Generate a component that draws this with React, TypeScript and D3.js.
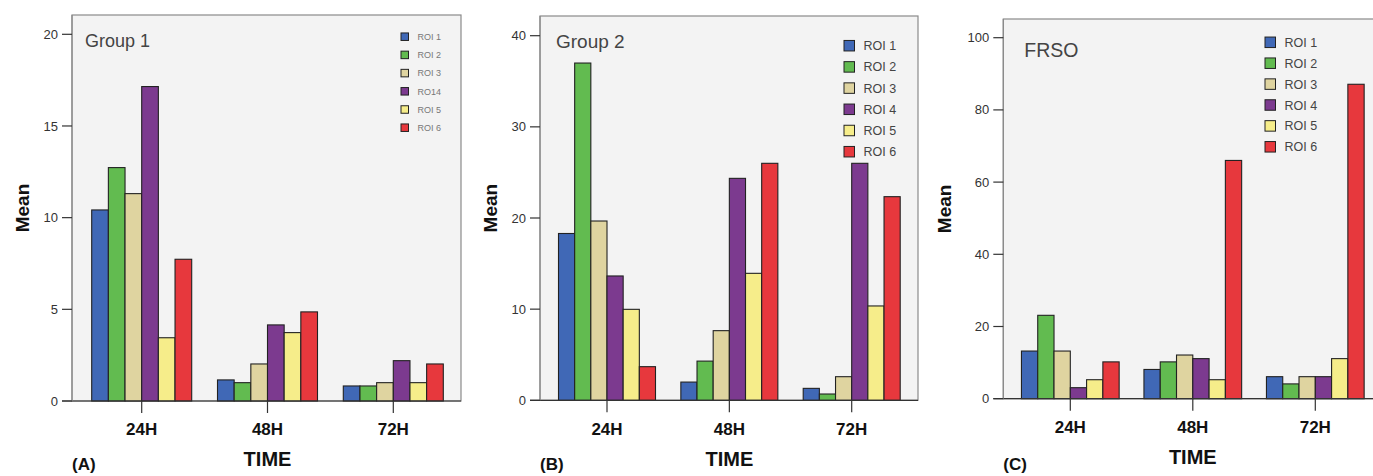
import React from "react";
import * as d3 from "d3";

const categories = ["24H", "48H", "72H"];
const roiColors = ["#4068b6", "#62bb50", "#dfd4a0", "#7c3a8f", "#f6ed8a", "#e7383d"];

const legendA = ["ROI 1", "ROI 2", "ROI 3", "RO14", "ROI 5", "ROI 6"];
const legendBC = ["ROI 1", "ROI 2", "ROI 3", "ROI 4", "ROI 5", "ROI 6"];

// values[roi][category]
const group1 = [
  [10.42, 1.15, 0.82],
  [12.73, 1.0, 0.82],
  [11.31, 2.02, 1.0],
  [17.15, 4.15, 2.2],
  [3.45, 3.73, 1.0],
  [7.73, 4.86, 2.02],
];
const group2 = [
  [18.3, 2.0, 1.31],
  [37.0, 4.3, 0.69],
  [19.67, 7.64, 2.59],
  [13.64, 24.35, 26.0],
  [9.98, 13.93, 10.35],
  [3.69, 26.0, 22.34],
];
const frso = [
  [13.2, 8.1, 6.1],
  [23.1, 10.2, 4.1],
  [13.2, 12.1, 6.1],
  [3.05, 11.1, 6.1],
  [5.26, 5.26, 11.1],
  [10.2, 66.0, 87.1],
];

const ticksA = [0, 5, 10, 15, 20];
const ticksB = [0, 10, 20, 30, 40];
const ticksC = [0, 20, 40, 60, 80, 100];

const FONT = "'Liberation Sans', Arial, sans-serif";

type PanelProps = {
  title: string;
  tag: string;
  values: number[][];
  ticks: number[];
  legend: string[];
  frame: { x0: number; y0: number; x1: number; y1: number };
  yTopPx: number;
  cat0: number;
  cat2: number;
  groupW: number;
  title_: { x: number; y: number; size: number };
  leg: { x: number; y: number; dy: number; sq: number; size: number; color: string };
  meanX: number;
  timeY: number;
  catY: number;
};

function Panel(p: PanelProps) {
  const { frame } = p;
  const y = d3
    .scaleLinear()
    .domain([0, p.ticks[p.ticks.length - 1]])
    .range([frame.y1, p.yTopPx]);
  const x = d3.scalePoint<string>().domain(categories).range([p.cat0, p.cat2]);
  const inner = d3
    .scaleBand<number>()
    .domain(d3.range(p.values.length))
    .range([-p.groupW / 2, p.groupW / 2])
    .padding(0);
  const midX = (p.cat0 + p.cat2) / 2;
  return (
    <g>
      <rect
        x={frame.x0}
        y={frame.y0}
        width={frame.x1 - frame.x0}
        height={frame.y1 - frame.y0}
        fill="#f3f3f3"
        stroke="#8a8a8a"
        strokeWidth={1.2}
      />
      <text x={p.title_.x} y={p.title_.y} fontSize={p.title_.size} fill="#444" fontFamily={FONT}>
        {p.title}
      </text>
      {p.values.map((series, r) =>
        series.map((v, c) => (
          <rect
            key={`${r}-${c}`}
            x={(x(categories[c]) as number) + (inner(r) as number)}
            y={y(v)}
            width={inner.bandwidth()}
            height={frame.y1 - y(v)}
            fill={roiColors[r]}
            stroke="#222"
            strokeWidth={1.1}
          />
        ))
      )}
      <line x1={frame.x0 - 10} x2={frame.x1} y1={frame.y1} y2={frame.y1} stroke="#333" strokeWidth={1.2} />
      <line x1={frame.x0} x2={frame.x0} y1={frame.y0} y2={frame.y1} stroke="#8a8a8a" strokeWidth={1.2} />
      {p.ticks.map((t) => (
        <g key={t}>
          <line x1={frame.x0 - 10} x2={frame.x0} y1={y(t)} y2={y(t)} stroke="#333" strokeWidth={1.2} />
          <text
            x={frame.x0 - 14}
            y={y(t)}
            dy="0.35em"
            textAnchor="end"
            fontSize={13}
            fill="#333"
            fontFamily={FONT}
          >
            {t}
          </text>
        </g>
      ))}
      {categories.map((c) => (
        <g key={c}>
          <line x1={x(c)} x2={x(c)} y1={frame.y1} y2={frame.y1 + 12} stroke="#333" strokeWidth={1.2} />
          <text
            x={x(c)}
            y={p.catY}
            textAnchor="middle"
            fontSize={17}
            fontWeight="bold"
            fill="#111"
            fontFamily={FONT}
          >
            {c}
          </text>
        </g>
      ))}
      <text
        transform={`translate(${p.meanX},${(frame.y0 + frame.y1) / 2}) rotate(-90)`}
        textAnchor="middle"
        dy="0.35em"
        fontSize={19}
        fontWeight="bold"
        fill="#111"
        fontFamily={FONT}
      >
        Mean
      </text>
      <text x={midX} y={p.timeY} textAnchor="middle" fontSize={20} fontWeight="bold" fill="#111" fontFamily={FONT}>
        TIME
      </text>
      <text x={frame.x0} y={470} fontSize={17} fontWeight="bold" fill="#111" fontFamily={FONT}>
        {p.tag}
      </text>
      {p.legend.map((l, i) => (
        <g key={l + i}>
          <rect
            x={p.leg.x}
            y={p.leg.y + i * p.leg.dy - p.leg.sq / 2}
            width={p.leg.sq}
            height={p.leg.sq}
            fill={roiColors[i]}
            stroke="#222"
            strokeWidth={1}
          />
          <text
            x={p.leg.x + p.leg.sq + 9}
            y={p.leg.y + i * p.leg.dy}
            dy="0.36em"
            fontSize={p.leg.size}
            fill={p.leg.color}
            fontFamily={FONT}
          >
            {l}
          </text>
        </g>
      ))}
    </g>
  );
}

export default function App() {
  return (
    <svg
      width={1373}
      height={476}
      style={{ position: "absolute", left: 0, top: 0, background: "#fff" }}
    >
      <Panel
        title="Group 1"
        tag="(A)"
        values={group1}
        ticks={ticksA}
        legend={legendA}
        frame={{ x0: 72, y0: 15, x1: 461, y1: 401 }}
        yTopPx={34.3}
        cat0={141.7}
        cat2={393.3}
        groupW={100}
        title_={{ x: 85, y: 46.5, size: 18 }}
        leg={{ x: 401, y: 36.7, dy: 18.2, sq: 7.5, size: 9, color: "#777" }}
        meanX={22}
        timeY={466}
        catY={435}
      />
      <Panel
        title="Group 2"
        tag="(B)"
        values={group2}
        ticks={ticksB}
        legend={legendBC}
        frame={{ x0: 540, y0: 16, x1: 918, y1: 400.3 }}
        yTopPx={35.7}
        cat0={607}
        cat2={851.7}
        groupW={97}
        title_={{ x: 556, y: 48, size: 19 }}
        leg={{ x: 844, y: 45.7, dy: 21.2, sq: 10.5, size: 12.5, color: "#444" }}
        meanX={490}
        timeY={466}
        catY={435}
      />
      <Panel
        title="FRSO"
        tag="(C)"
        values={frso}
        ticks={ticksC}
        legend={legendBC}
        frame={{ x0: 1003.3, y0: 19, x1: 1385, y1: 398.7 }}
        yTopPx={37.7}
        cat0={1070.3}
        cat2={1315.3}
        groupW={97.7}
        title_={{ x: 1024.3, y: 57.3, size: 19.5 }}
        leg={{ x: 1265, y: 42.3, dy: 20.9, sq: 10.5, size: 12.5, color: "#444" }}
        meanX={944}
        timeY={464}
        catY={433}
      />
    </svg>
  );
}
